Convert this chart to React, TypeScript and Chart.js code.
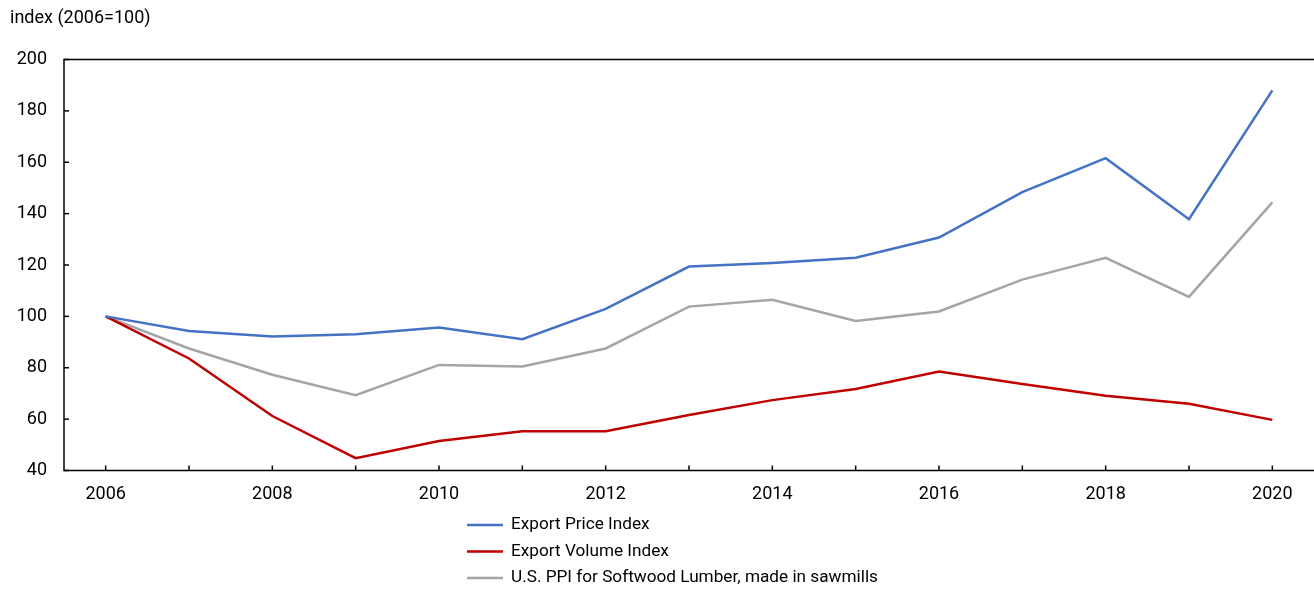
import React, { useEffect, useRef } from "react";
import { Chart, registerables } from "chart.js";

Chart.register(...registerables);

const years = ["2006","2007","2008","2009","2010","2011","2012","2013","2014","2015","2016","2017","2018","2019","2020"];
const exportPrice = [100, 94.3, 92.2, 93, 95.7, 91.1, 102.9, 119.4, 120.8, 122.8, 130.7, 148.4, 161.6, 137.8, 188];
const exportVolume = [100, 83.6, 61.2, 44.8, 51.5, 55.3, 55.3, 61.6, 67.4, 71.7, 78.5, 73.7, 69.1, 66, 59.7];
const ppiLumber = [100, 87.5, 77.3, 69.3, 81.1, 80.5, 87.5, 103.8, 106.5, 98.2, 101.9, 114.3, 122.8, 107.6, 144.4];
const seriesLabels = ["Export Price Index", "Export Volume Index", "U.S. PPI for Softwood Lumber, made in sawmills"];
const yTitle = "index (2006=100)";

const FONT = "Roboto, 'Liberation Sans', sans-serif";
const FS = 18;
const LEGEND_FS = 17.2;

const decorPlugin = {
  id: "decor",
  afterDatasetsDraw(chart: any) {
    const { ctx, chartArea, scales } = chart;
    const { left, right, top, bottom } = chartArea;
    ctx.save();
    ctx.strokeStyle = "#000";
    ctx.lineWidth = 1.5;
    ctx.beginPath();
    ctx.moveTo(right, top);
    ctx.lineTo(left, top);
    ctx.lineTo(left, bottom);
    ctx.lineTo(right, bottom);
    ctx.stroke();
    const y = scales.y;
    y.ticks.forEach((t: any, i: number) => {
      const py = y.getPixelForTick(i);
      ctx.beginPath();
      ctx.moveTo(left, py);
      ctx.lineTo(left + 5, py);
      ctx.stroke();
    });
    const x = scales.x;
    years.forEach((_, i) => {
      const px = x.getPixelForValue(i);
      ctx.beginPath();
      ctx.moveTo(px, bottom);
      ctx.lineTo(px, bottom - 5);
      ctx.stroke();
    });
    ctx.fillStyle = "#000";
    ctx.font = `${FS}px ${FONT}`;
    ctx.textBaseline = "middle";
    ctx.textAlign = "left";
    ctx.fillText(yTitle, 10, 18);
    ctx.font = `${LEGEND_FS}px ${FONT}`;
    const lx = 467;
    const ys = [525, 551.5, 578];
    chart.data.datasets.forEach((ds: any, i: number) => {
      ctx.strokeStyle = ds.borderColor;
      ctx.lineWidth = 2.5;
      ctx.beginPath();
      ctx.moveTo(lx, ys[i]);
      ctx.lineTo(lx + 36, ys[i]);
      ctx.stroke();
      ctx.fillStyle = "#000";
      ctx.fillText(ds.label, lx + 44, ys[i]);
    });
    ctx.restore();
  },
};

export default function App() {
  const ref = useRef<HTMLCanvasElement>(null);
  useEffect(() => {
    document.body.style.margin = "0";
    const chart = new Chart(ref.current!, {
      type: "line",
      data: {
        labels: years,
        datasets: [
          { label: seriesLabels[0], data: exportPrice, borderColor: "#4472C4", backgroundColor: "#4472C4" },
          { label: seriesLabels[1], data: exportVolume, borderColor: "#C00000", backgroundColor: "#C00000" },
          { label: seriesLabels[2], data: ppiLumber, borderColor: "#A5A5A5", backgroundColor: "#A5A5A5" },
        ],
      },
      options: {
        animation: false,
        responsive: false,
        maintainAspectRatio: false,
        elements: { point: { radius: 0 }, line: { borderWidth: 2.5, tension: 0 } },
        layout: { padding: { top: 59.5, bottom: 80, left: 0, right: 0 } },
        plugins: { legend: { display: false }, tooltip: { enabled: false } },
        scales: {
          x: {
            offset: true,
            grid: { display: false, drawTicks: false },
            border: { display: false },
            ticks: {
              autoSkip: false,
              maxRotation: 0,
              padding: 13,
              color: "#000",
              font: { family: FONT, size: FS },
              callback: (v: any, i: number) => (i % 2 === 0 ? years[i] : ""),
            },
            afterFit: (s: any) => { s.height = 40.5; },
          },
          y: {
            min: 40,
            max: 200,
            grid: { display: false, drawTicks: false },
            border: { display: false },
            ticks: { stepSize: 20, padding: 17, color: "#000", font: { family: FONT, size: FS } },
            afterFit: (s: any) => { s.width = 64; },
          },
        },
      },
      plugins: [decorPlugin],
    });
    return () => chart.destroy();
  }, []);
  return (
    <div style={{ width: 1314, height: 591 }}>
      <canvas ref={ref} width={1314} height={591} style={{ display: "block" }} />
    </div>
  );
}
